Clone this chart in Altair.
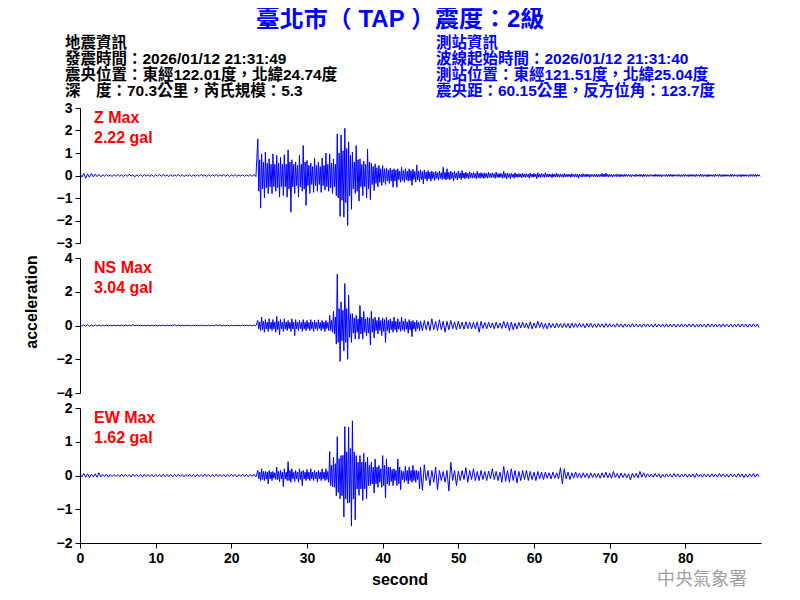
import altair as alt
import pandas as pd

BIN = 0.5  # seconds per bin; each bin gives a high and a low sample
X_TICKS = [0, 10, 20, 30, 40, 50, 60, 70, 80]
X_DOMAIN = [0, 90]

TITLE = "臺北市（ TAP ）震度：2級"
INFO_LEFT = ["地震資訊", "發震時間：2026/01/12 21:31:49",
             "震央位置：東經122.01度，北緯24.74度", "深　度：70.3公里，芮氏規模：5.3"]
INFO_RIGHT = ["測站資訊", "波線起始時間：2026/01/12 21:31:40",
              "測站位置：東經121.51度，北緯25.04度", "震央距：60.15公里，反方位角：123.7度"]
CHANNELS = ["Z", "NS", "EW"]
MAX_GAL = ["2.22 gal", "3.04 gal", "1.62 gal"]
Y_TICKS = [[-3, -2, -1, 0, 1, 2, 3], [-4, -2, 0, 2, 4], [-2, -1, 0, 1, 2]]
Y_DOMAINS = [[-3, 3], [-4, 4], [-2, 2]]

Z_HI = [0.08,0.10,0.07,0.09,0.06,0.05,0.04,0.05,0.03,0.04,
        0.05,0.03,0.04,0.06,0.04,0.03,0.04,0.05,0.03,0.04,
        0.03,0.05,0.04,0.03,0.04,0.03,0.05,0.04,0.03,0.04,
        0.03,0.04,0.05,0.03,0.04,0.03,0.04,0.03,0.05,0.04,
        0.03,0.04,0.03,0.04,0.03,0.04,0.05,1.63,0.96,1.04,
        0.74,0.96,0.89,0.81,0.92,1.14,0.70,0.60,0.89,1.33,
        0.67,0.55,0.78,0.60,0.78,1.00,0.96,0.74,1.85,1.80,
        2.10,1.50,1.04,1.33,0.74,0.64,1.18,0.56,0.52,0.45,
        0.44,0.34,0.33,0.30,0.30,0.37,0.30,0.30,0.28,0.47,
        0.25,0.25,0.22,0.20,0.18,0.20,0.37,0.30,0.20,0.18,
        0.20,0.22,0.15,0.16,0.14,0.19,0.13,0.12,0.14,0.12,
        0.15,0.10,0.19,0.10,0.10,0.12,0.09,0.10,0.08,0.11,
        0.09,0.12,0.09,0.12,0.07,0.08,0.10,0.07,0.09,0.06,
        0.08,0.07,0.06,0.08,0.07,0.06,0.07,0.06,0.09,0.11,
        0.06,0.05,0.07,0.05,0.06,0.05,0.04,0.06,0.05,0.06,
        0.05,0.04,0.06,0.05,0.04,0.05,0.06,0.04,0.05,0.04,
        0.06,0.05,0.04,0.05,0.06,0.04,0.05,0.04,0.05,0.06,
        0.05,0.04,0.06,0.05,0.04,0.05,0.04,0.05,0.06,0.05]
Z_LO = [-0.07,-0.12,-0.08,-0.06,-0.05,-0.06,-0.04,-0.03,-0.05,-0.04,
        -0.03,-0.05,-0.04,-0.03,-0.06,-0.04,-0.05,-0.03,-0.04,-0.05,
        -0.03,-0.04,-0.03,-0.05,-0.04,-0.03,-0.04,-0.05,-0.03,-0.04,
        -0.03,-0.04,-0.03,-0.05,-0.04,-0.03,-0.04,-0.03,-0.04,-0.05,
        -0.03,-0.04,-0.03,-0.04,-0.03,-0.04,-0.05,-1.45,-1.00,-0.80,
        -0.81,-0.70,-0.96,-0.89,-0.96,-1.63,-0.80,-0.96,-0.70,-1.33,
        -0.80,-0.75,-0.70,-0.75,-0.65,-0.70,-0.80,-0.90,-1.82,-1.85,
        -2.22,-1.50,-0.80,-1.14,-0.90,-1.00,-1.07,-0.67,-0.50,-0.44,
        -0.40,-0.35,-0.52,-0.52,-0.30,-0.30,-0.25,-0.44,-0.30,-0.28,
        -0.37,-0.25,-0.25,-0.22,-0.20,-0.18,-0.20,-0.20,-0.25,-0.20,
        -0.18,-0.15,-0.15,-0.12,-0.15,-0.12,-0.14,-0.12,-0.10,-0.13,
        -0.10,-0.12,-0.15,-0.14,-0.12,-0.08,-0.10,-0.09,-0.12,-0.08,
        -0.14,-0.09,-0.08,-0.07,-0.10,-0.07,-0.08,-0.09,-0.06,-0.08,
        -0.07,-0.12,-0.07,-0.06,-0.08,-0.06,-0.07,-0.05,-0.06,-0.07,
        -0.07,-0.05,-0.06,-0.05,-0.04,-0.06,-0.05,-0.04,-0.06,-0.05,
        -0.04,-0.05,-0.04,-0.06,-0.05,-0.04,-0.05,-0.04,-0.05,-0.04,
        -0.05,-0.04,-0.05,-0.04,-0.05,-0.06,-0.04,-0.05,-0.04,-0.05,
        -0.04,-0.05,-0.04,-0.05,-0.06,-0.04,-0.05,-0.04,-0.05,-0.04]
# dense core amplitude of the record, bins from 23.5 s on
Z_CORE = [0.70,0.60,0.55,
          0.50,0.50,0.55,0.50,0.50,0.60,0.50,0.45,0.50,0.60,
          0.45,0.40,0.45,0.40,0.45,0.50,0.55,0.50,1.00,1.10,
          1.20,0.90,0.60,0.70,0.50,0.50,0.60,0.40,0.35,0.30,
          0.30,0.25,0.25,0.25,0.20,0.22,0.20,0.22,0.18,0.20,
          0.18,0.16,0.15,0.14,0.13,0.13,0.15,0.15,0.13,0.12,
          0.12,0.11,0.10,0.10,0.10,0.10,0.09,0.09,0.09,0.08,
          0.08,0.08,0.09,0.08,0.07,0.07,0.07,0.07,0.06,0.06,
          0.06,0.07,0.06,0.06,0.05,0.06,0.06,0.05,0.06,0.05,
          0.05,0.06,0.05,0.05,0.05,0.04,0.05,0.05,0.06,0.05,
          0.04,0.04,0.05,0.04,0.04,0.04,0.03,0.04,0.04,0.04,
          0.04,0.03,0.04,0.04,0.03,0.04,0.04,0.03,0.04,0.04,
          0.03,0.04,0.04,0.03,0.04,0.03,0.04,0.04,0.03,0.04,
          0.04,0.03,0.04,0.03,0.04,0.04,0.03,0.04,0.04,0.03]

NS_HI = [0.05,0.04,0.05,0.03,0.04,0.03,0.02,0.02,0.02,0.02,
         0.02,0.02,0.03,0.02,0.05,0.02,0.02,0.01,0.02,0.02,
         0.02,0.02,0.02,0.02,0.01,0.05,0.02,0.02,0.02,0.01,
         0.02,0.02,0.02,0.02,0.02,0.01,0.05,0.02,0.02,0.02,
         0.02,0.02,0.01,0.02,0.02,0.02,0.02,0.30,0.50,0.35,
         0.40,0.35,0.54,0.35,0.40,0.30,0.40,0.35,0.30,0.35,
         0.30,0.35,0.30,0.34,0.30,0.30,0.60,0.84,3.04,1.40,
         2.49,1.80,0.70,0.60,1.19,0.84,0.50,0.84,0.50,0.50,
         0.45,0.50,0.40,0.50,0.40,0.50,0.40,0.35,0.30,0.30,
         0.26,0.30,0.25,0.40,0.25,0.34,0.25,0.25,0.30,0.22,
         0.26,0.20,0.22,0.20,0.18,0.22,0.25,0.18,0.20,0.16,
         0.20,0.15,0.25,0.20,0.20,0.15,0.18,0.20,0.15,0.22,
         0.15,0.25,0.18,0.12,0.15,0.12,0.15,0.12,0.14,0.12,
         0.15,0.12,0.14,0.10,0.12,0.14,0.10,0.12,0.10,0.12,
         0.10,0.08,0.12,0.09,0.10,0.08,0.11,0.09,0.08,0.10,
         0.09,0.08,0.10,0.08,0.09,0.10,0.08,0.09,0.08,0.10,
         0.08,0.09,0.10,0.08,0.09,0.08,0.10,0.09,0.08,0.09,
         0.10,0.08,0.09,0.08,0.10,0.09,0.08,0.09,0.10,0.08]
NS_LO = [-0.04,-0.05,-0.04,-0.05,-0.03,-0.04,-0.02,-0.03,-0.02,-0.02,
         -0.02,-0.03,-0.02,-0.02,-0.02,-0.01,-0.02,-0.02,-0.02,-0.02,
         -0.02,-0.02,-0.02,-0.01,-0.02,-0.02,-0.02,-0.02,-0.01,-0.02,
         -0.02,-0.02,-0.02,-0.02,-0.01,-0.02,-0.02,-0.02,-0.02,-0.02,
         -0.02,-0.01,-0.02,-0.02,-0.02,-0.03,-0.02,-0.30,-0.40,-0.35,
         -0.30,-0.40,-0.54,-0.35,-0.30,-0.35,-0.60,-0.30,-0.35,-0.30,
         -0.30,-0.35,-0.30,-0.30,-0.36,-0.30,-0.40,-1.10,-2.13,-1.50,
         -2.00,-1.00,-0.80,-0.80,-0.80,-0.60,-1.15,-0.74,-0.50,-0.60,
         -1.00,-0.45,-0.40,-0.40,-0.35,-0.35,-0.46,-0.66,-0.35,-0.30,
         -0.30,-0.25,-0.30,-0.25,-0.30,-0.25,-0.40,-0.25,-0.20,-0.25,
         -0.20,-0.22,-0.18,-0.20,-0.20,-0.40,-0.18,-0.20,-0.15,-0.20,
         -0.16,-0.18,-0.15,-0.30,-0.25,-0.20,-0.15,-0.15,-0.18,-0.20,
         -0.15,-0.12,-0.18,-0.20,-0.12,-0.15,-0.12,-0.14,-0.12,-0.16,
         -0.12,-0.12,-0.10,-0.14,-0.10,-0.12,-0.12,-0.10,-0.12,-0.10,
         -0.09,-0.10,-0.08,-0.11,-0.09,-0.10,-0.08,-0.09,-0.10,-0.08,
         -0.08,-0.10,-0.09,-0.08,-0.10,-0.09,-0.08,-0.10,-0.09,-0.08,
         -0.09,-0.08,-0.10,-0.09,-0.08,-0.10,-0.09,-0.08,-0.09,-0.10,
         -0.08,-0.09,-0.10,-0.08,-0.09,-0.08,-0.10,-0.09,-0.08,-0.12]
NS_CORE = [0.20,0.25,0.20,
           0.20,0.20,0.25,0.20,0.20,0.18,0.20,0.20,0.18,0.20,
           0.18,0.20,0.18,0.18,0.20,0.18,0.30,0.50,1.00,0.90,
           1.00,0.70,0.45,0.40,0.50,0.40,0.45,0.40,0.30,0.30,
           0.35,0.30,0.25,0.25,0.22,0.25,0.22,0.25,0.20,0.18]

EW_HI = [0.04,0.06,0.05,0.04,0.05,0.08,0.03,0.04,0.03,0.03,
         0.03,0.04,0.03,0.03,0.04,0.03,0.03,0.04,0.03,0.03,
         0.03,0.03,0.04,0.03,0.03,0.03,0.04,0.03,0.03,0.04,
         0.03,0.03,0.03,0.04,0.03,0.03,0.04,0.03,0.03,0.03,
         0.04,0.03,0.03,0.04,0.03,0.03,0.04,0.15,0.20,0.12,
         0.15,0.12,0.25,0.15,0.20,0.41,0.20,0.15,0.20,0.15,
         0.18,0.20,0.15,0.15,0.20,0.20,0.71,0.54,1.15,0.59,
         1.45,1.43,1.62,0.59,0.59,0.66,0.54,0.39,0.49,0.30,
         0.59,0.49,0.25,0.20,0.49,0.15,0.27,0.25,0.30,0.15,
         0.25,0.32,0.15,0.15,0.25,0.15,0.12,0.15,0.39,0.15,
         0.13,0.15,0.23,0.15,0.20,0.12,0.15,0.12,0.13,0.20,
         0.12,0.10,0.27,0.15,0.20,0.15,0.12,0.15,0.15,0.12,
         0.10,0.12,0.10,0.10,0.08,0.10,0.08,0.23,0.20,0.10,
         0.08,0.10,0.07,0.08,0.06,0.08,0.07,0.06,0.08,0.10,
         0.07,0.12,0.06,0.07,0.06,0.05,0.07,0.06,0.12,0.08,
         0.05,0.04,0.06,0.05,0.04,0.05,0.04,0.06,0.05,0.04,
         0.05,0.04,0.05,0.06,0.04,0.05,0.04,0.05,0.04,0.06,
         0.05,0.04,0.05,0.04,0.06,0.05,0.04,0.05,0.06,0.05]
EW_LO = [-0.04,-0.05,-0.06,-0.04,-0.05,-0.04,-0.03,-0.05,-0.03,-0.03,
         -0.04,-0.03,-0.03,-0.04,-0.03,-0.03,-0.04,-0.03,-0.03,-0.04,
         -0.03,-0.04,-0.03,-0.03,-0.04,-0.03,-0.03,-0.04,-0.03,-0.03,
         -0.04,-0.03,-0.03,-0.03,-0.04,-0.03,-0.03,-0.03,-0.04,-0.03,
         -0.03,-0.04,-0.03,-0.03,-0.04,-0.03,-0.04,-0.15,-0.15,-0.25,
         -0.15,-0.12,-0.18,-0.33,-0.15,-0.20,-0.18,-0.20,-0.30,-0.15,
         -0.15,-0.15,-0.20,-0.15,-0.15,-0.20,-0.34,-0.60,-0.69,-1.23,
         -0.82,-1.50,-1.31,-0.59,-0.74,-0.69,-0.30,-0.52,-0.35,-0.35,
         -0.66,-0.30,-0.30,-0.30,-0.42,-0.20,-0.25,-0.20,-0.20,-0.39,
         -0.44,-0.15,-0.30,-0.20,-0.42,-0.15,-0.20,-0.46,-0.15,-0.30,
         -0.15,-0.12,-0.20,-0.12,-0.15,-0.15,-0.12,-0.15,-0.10,-0.12,
         -0.15,-0.20,-0.17,-0.20,-0.15,-0.22,-0.15,-0.12,-0.15,-0.12,
         -0.15,-0.10,-0.12,-0.08,-0.10,-0.08,-0.10,-0.25,-0.10,-0.12,
         -0.08,-0.07,-0.08,-0.06,-0.08,-0.06,-0.07,-0.08,-0.06,-0.07,
         -0.08,-0.06,-0.08,-0.06,-0.07,-0.13,-0.06,-0.07,-0.05,-0.06,
         -0.04,-0.05,-0.04,-0.07,-0.05,-0.04,-0.05,-0.04,-0.05,-0.04,
         -0.05,-0.04,-0.06,-0.04,-0.05,-0.04,-0.05,-0.04,-0.05,-0.04,
         -0.04,-0.05,-0.04,-0.05,-0.04,-0.06,-0.05,-0.04,-0.05,-0.04]
EW_CORE = [0.10,0.12,0.10,
           0.10,0.08,0.12,0.10,0.10,0.15,0.10,0.10,0.12,0.10,
           0.10,0.10,0.10,0.10,0.10,0.12,0.30,0.35,0.50,0.60,
           0.70,0.80,0.70,0.40,0.40,0.40,0.30,0.25,0.25,0.20,
           0.30,0.25,0.18,0.15,0.25,0.12,0.15,0.15,0.15,0.12]
CORE_START_BIN = 47

FONT = "Liberation Sans, Arial, Noto Sans CJK TC"
BLUE = "#0000FF"
RED = "#FF0000"
W, H = 681, 135


def trace_frame(hi, lo, core):
    t, v = [], []
    for i, (h, l) in enumerate(zip(hi, lo)):
        j = i - CORE_START_BIN
        t0 = i * BIN
        if 0 <= j < len(core):
            c = core[j]
            t += [t0, t0 + BIN / 4, t0 + BIN / 2, t0 + 3 * BIN / 4]
            v += [h, -c, c, l]
        else:
            t += [t0, t0 + BIN / 2]
            v += [h, l]
    return pd.DataFrame({"t": t, "v": v})


def txt(text, x, y, color, size, align="left", baseline="middle", angle=0,
        weight="bold", line_height=16, font=FONT):
    props = dict(text=text, color=color, fontSize=size, font=font,
                 fontWeight=weight, align=align, baseline=baseline,
                 lineHeight=line_height)
    if angle:
        props["angle"] = angle
    return alt.Chart(alt.Data(values=[{"k": 0}])).mark_text(**props).encode(
        x=alt.value(x), y=alt.value(y))


def panel(i, hi, lo, core, extras, show_x):
    df = trace_frame(hi, lo, core)
    yaxis = alt.Axis(values=Y_TICKS[i], title=None, grid=False, labelFont=FONT,
                     labelFontSize=14, labelFontWeight="bold", labelColor="black",
                     tickColor="black", domainColor="black", tickSize=5,
                     labelPadding=3, labelOverlap=False, labelFlush=False)
    if show_x:
        xaxis = alt.Axis(values=X_TICKS, title=None, grid=False, labelFont=FONT,
                         labelFontSize=14, labelFontWeight="bold", labelColor="black",
                         tickColor="black", domainColor="black", tickSize=5,
                         labelPadding=3, labelFlush=False, labelOverlap=False)
    else:
        xaxis = None
    line = alt.Chart(df).mark_line(color=BLUE, strokeWidth=1).encode(
        x=alt.X("t:Q", scale=alt.Scale(domain=X_DOMAIN, nice=False, zero=False), axis=xaxis),
        y=alt.Y("v:Q", scale=alt.Scale(domain=Y_DOMAINS[i], nice=False, zero=False), axis=yaxis),
    )
    layers = [line,
              txt(CHANNELS[i] + " Max", 14, 10, RED, 16),
              txt(MAX_GAL[i], 14, 30, RED, 16)] + extras
    return alt.layer(*layers).properties(width=W, height=H)


z_extras = [
    txt(TITLE, 320, -88, BLUE, 24, align="center"),
    txt(INFO_LEFT, -15, -72.5, "black", 15.5, baseline="top"),
    txt(INFO_RIGHT, 356, -72.5, BLUE, 15.5, baseline="top"),
]
ns_extras = [txt("acceleration", -48, 44, "black", 16, align="center", angle=270)]
ew_extras = [
    txt("second", 320, 172, "black", 16, align="center"),
    txt("中央氣象署", 622, 172, "#A0A0A0", 18, align="center", weight="normal",
        font="Noto Sans CJK TC"),
]

chart = alt.vconcat(
    panel(0, Z_HI, Z_LO, Z_CORE, z_extras, False),
    panel(1, NS_HI, NS_LO, NS_CORE, ns_extras, False),
    panel(2, EW_HI, EW_LO, EW_CORE, ew_extras, True),
    spacing=15, bounds="flush",
).properties(
    padding={"left": 16, "top": 0, "right": 5, "bottom": 5},
    background="white",
).configure_view(stroke=None)

chart.save("out.html", embed_options={"renderer": "svg", "actions": False})
